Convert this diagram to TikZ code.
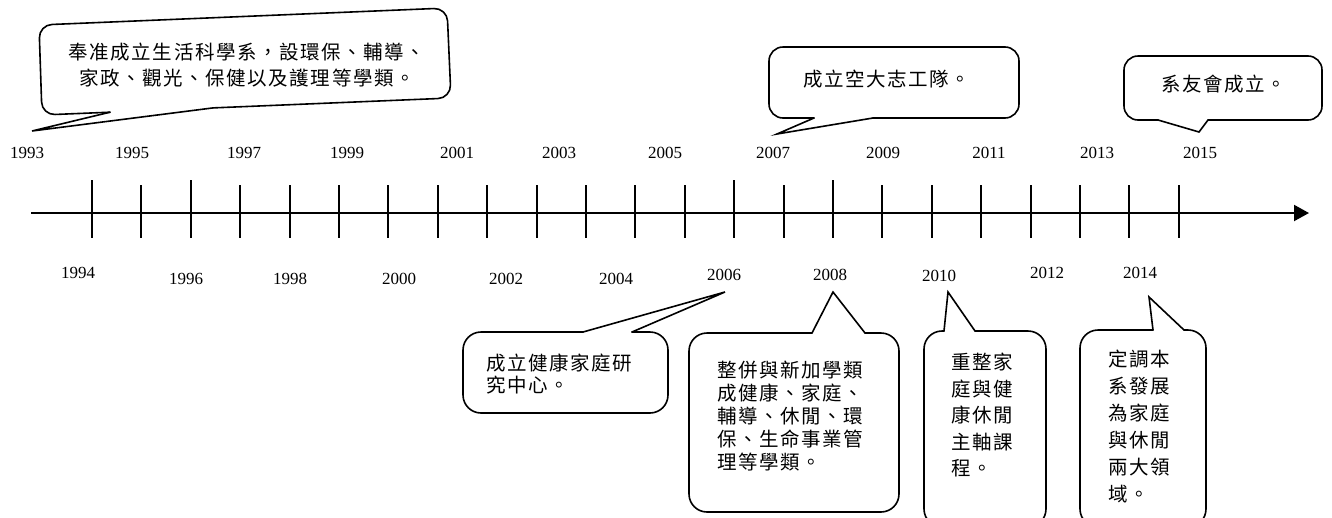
\documentclass[tikz,border=0pt]{standalone}
\usepackage{fontspec}
\setmainfont{Liberation Serif}
\newfontfamily\cjk[LetterSpace=8]{Noto Sans CJK TC}
\usetikzlibrary{arrows.meta}
\tikzset{
  bubble/.style={draw=black, line width=1.6pt, line join=round, line cap=round},
  bubbletail/.style={draw=black, line width=1.6pt, line join=miter, line cap=round},
  yearlbl/.style={inner sep=0pt, font=\fontsize{17}{18}\selectfont},
  tickline/.style={line width=1.8pt},
  axisline/.style={line width=2pt, -{Triangle[length=15pt,width=16pt]}},
  cjkbox/.style={inner sep=0pt, align=left, font=\cjk\fontsize{19.5}{#1}\selectfont},
  cjkcbox/.style={inner sep=0pt, align=center, font=\cjk\fontsize{19.5}{#1}\selectfont},
}
% #1 radius, #2 start, #3-#6 corners, #7 end, #8 tail tip
\newcommand{\callbubble}[8]{%
  \draw[bubble,rounded corners=#1] #2 -- #3 -- #4 -- #5 -- #6 -- #7;
  \draw[bubbletail] #7 -- #8 -- #2;}
\begin{document}
\begin{tikzpicture}[x=1pt,y=-1pt]
\useasboundingbox (0,0) rectangle (1332,517);
\clip (0,0) rectangle (1332,517);

% axis
\coordinate (axs) at (31,213);
\coordinate (axe) at (1309,213);
\draw[axisline] (axs) -- (axe);
\foreach \i in {0,...,22}{
  \pgfmathsetmacro\tx{round(92+49.4*\i)}
  \draw[tickline] (\tx,185) -- (\tx,238);
}
\foreach \i in {0,2,13,15}{
  \pgfmathsetmacro\tx{round(92+49.4*\i)}
  \draw[tickline] (\tx,180) -- (\tx,236);
}

% top year labels
\foreach \yr/\xx in {1993/27,1995/132,1997/244,1999/347,2001/457,2003/559,2005/665,2007/773,2009/883,2011/989,2013/1097,2015/1200}{
  \node[yearlbl] (y\yr) at (\xx,153) {\yr};
}
% bottom year labels
\node[yearlbl] (y1994) at (78,273) {1994};
\foreach \yr/\xx/\yy in {1996/186/279,1998/290/279,2000/399/279,2002/506/279,2004/616/279,2006/724/275,2008/830/275,2010/939/276,2012/1047/273,2014/1140/273}{
  \node[yearlbl] (y\yr) at (\xx,\yy) {\yr};
}

% top-left callout (slightly skewed)
\callbubble{13pt}{(110,112.2)}{(42,115)}{(39,25)}{(447,8)}{(451,98)}{(213,107.9)}{(32,131)}
\node[cjkcbox=26] (tl) at (247,65) {奉准成立生活科學系，設環保、輔導、\\家政、觀光、保健以及護理等學類。};

% top-middle callout
\callbubble{14pt}{(814,118)}{(769,118)}{(769,47)}{(1019,47)}{(1019,118)}{(873,118)}{(777,134)}
\node[cjkcbox=26] (tm) at (887,79) {成立空大志工隊。};

% top-right callout
\callbubble{14pt}{(1158,120)}{(1124,120)}{(1124,56)}{(1322,56)}{(1322,120)}{(1208,120)}{(1199,132)}
\node[cjkcbox=26] (tr) at (1224,84) {系友會成立。};

% bottom callouts
\callbubble{18pt}{(632,332)}{(668,332)}{(668,413)}{(463,413)}{(463,332)}{(583,332)}{(725,292)}
\node[cjkbox=22, anchor=west] (ba) at (486,374) {成立健康家庭研\\究中心。};

\callbubble{18pt}{(865,333)}{(899,333)}{(899,512)}{(689,512)}{(689,333)}{(812,333)}{(833,292)}
\node[cjkbox=23, anchor=west] (bb) at (717,416) {整併與新加學類\\成健康、家庭、\\輔導、休閒、環\\保、生命事業管\\理等學類。};

\callbubble{18pt}{(975,331)}{(1046,331)}{(1046,527)}{(924,527)}{(924,331)}{(944,331)}{(948,292)}
\node[cjkbox=26.5, anchor=west] (bc) at (951,415) {重整家\\庭與健\\康休閒\\主軸課\\程。};

\callbubble{18pt}{(1184,330)}{(1206,330)}{(1206,527)}{(1080,527)}{(1080,330)}{(1153,330)}{(1149,297)}
\node[cjkbox=27, anchor=west] (bd) at (1108,427) {定調本\\系發展\\為家庭\\與休閒\\兩大領\\域。};
\end{tikzpicture}
\end{document}
